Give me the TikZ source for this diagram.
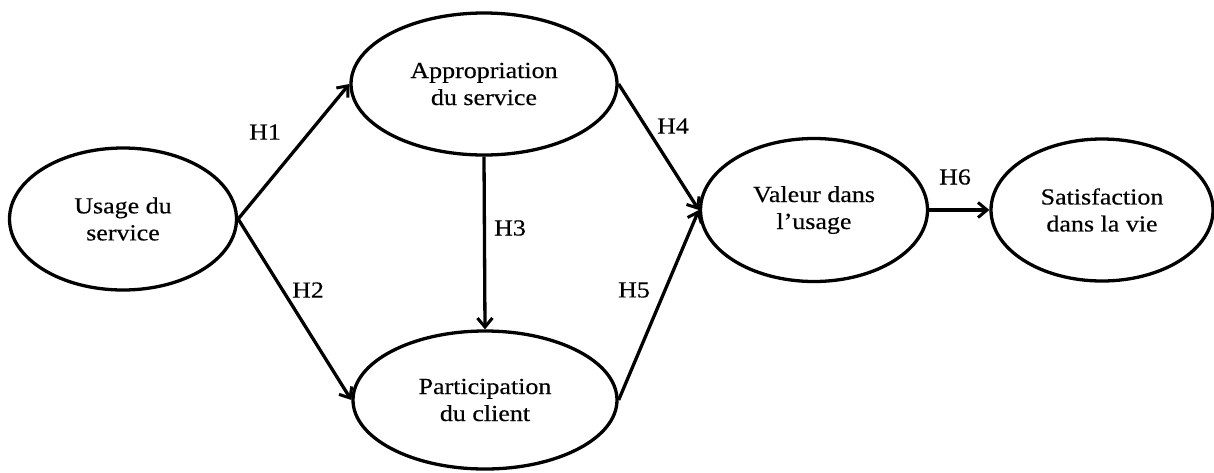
\documentclass[tikz,border=0pt]{standalone}
\usepackage{fontspec}
\setmainfont{Liberation Serif}[FakeStretch=1.13,FakeBold=0.4]
\usetikzlibrary{shapes.geometric,arrows.meta}
\begin{document}
\begin{tikzpicture}[x=1pt,y=-1pt,
  every node/.style={font=\fontsize{23}{27}\selectfont},
  oval/.style={draw,ellipse,line width=3.3pt,inner sep=0pt,align=center},
  conn/.style={line width=3.3pt,-{Straight Barb[length=9pt,width=15pt,line width=3pt]}},
  hyp/.style={inner sep=0pt}]
\useasboundingbox (0,0) rectangle (1214,472);
\node[oval,minimum width=227pt,minimum height=142pt] (usage) at (123,219) {Usage du\\service};
\node[oval,minimum width=266pt,minimum height=142pt] (appr) at (484,84) {Appropriation\\du service};
\node[oval,minimum width=264pt,minimum height=138pt] (part) at (485,400) {Participation\\du client};
\node[oval,minimum width=227pt,minimum height=143pt] (val) at (814,210) {Valeur dans\\l’usage};
\node[oval,minimum width=222pt,minimum height=142pt] (sat) at (1102,210) {Satisfaction\\dans la vie};
\draw[conn] (usage.east) -- (appr.west);
\draw[conn] (usage.east) -- (part.west);
\draw[conn] (appr.south) -- (part.north);
\draw[conn] (appr.east) -- (val.west);
\draw[conn] (part.east) -- (val.west);
\draw[conn] (val.east) -- (sat.west);
\node[hyp] (h1) at (265,132) {H1};
\node[hyp] (h2) at (308,290) {H2};
\node[hyp] (h3) at (510,228) {H3};
\node[hyp] (h4) at (673,126) {H4};
\node[hyp] (h5) at (634,290) {H5};
\node[hyp] (h6) at (955,177) {H6};
\end{tikzpicture}
\end{document}
